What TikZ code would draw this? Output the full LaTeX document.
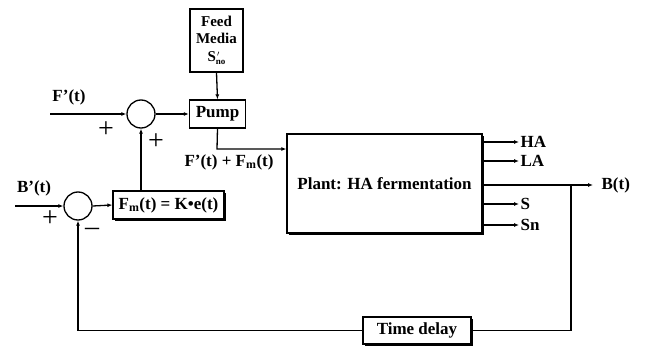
\documentclass[tikz,border=0pt]{standalone}
\usepackage{fontspec}
\setmainfont{Liberation Serif}
\usetikzlibrary{arrows.meta,shadows}
\begin{document}
\begin{tikzpicture}[x=1pt,y=-1pt,
  line width=1.3pt,
  font=\fontsize{17}{18}\selectfont\bfseries,
  arr/.style={-{Latex[length=5pt,width=4pt]}},
  blk/.style={draw,fill=white,rectangle,inner sep=0pt,align=center},
  shblk/.style={blk,drop shadow={shadow xshift=2.2pt,shadow yshift=-2.2pt,fill=black,opacity=1}},
  sumc/.style={draw,circle,minimum size=28pt,inner sep=0pt},
  lbl/.style={inner sep=1pt},
  sgn/.style={inner sep=0pt,font=\fontsize{28}{28}\selectfont\mdseries}]
\useasboundingbox (0,0) rectangle (646,348);
% blocks
\node[blk,minimum width=53pt,minimum height=63pt,font=\fontsize{15}{16}\selectfont\bfseries] (feed) at (216.5,40.5) {Feed\\[1pt]Media\\[2pt]S\textsuperscript{\fontsize{8}{8}\selectfont\,$\prime$}\kern-4pt\raisebox{-2.5pt}{\fontsize{9}{9}\selectfont no}};
\node[blk,minimum width=56pt,minimum height=28pt] (pump) at (217.5,114) {Pump};
\node[sumc] (sum1) at (141,114) {};
\node[sumc] (sum2) at (78,206) {};
\node[shblk,minimum width=111pt,minimum height=28pt] (fm) at (168.5,205) {F$_{\mathbf{m}}$(t) = K•e(t)};
\node[shblk,minimum width=195pt,minimum height=99pt] (plant) at (384.5,183.5) {Plant: HA fermentation};
\node[shblk,minimum width=108pt,minimum height=27pt] (delay) at (417,330.5) {Time delay};
% inputs
\coordinate (inF) at (50,114);
\coordinate (inB) at (15,206);
\coordinate (pturn) at (217,149);
\coordinate (branch) at (571,185);
\coordinate (bend) at (593,185);
% labels
\node[lbl] (lF) at (69,97) {F’(t)};
\node[lbl] (lB) at (34,188) {B’(t)};
\node[lbl] (lsum) at (229,162) {F’(t) + F$_{\mathbf{m}}$(t)};
\node[sgn] (p1) at (106,130) {+};
\node[sgn] (p2) at (156,142) {+};
\node[sgn] (p3) at (50,219) {+};
\node[sgn] (m1) at (92,232) {\textendash};
\node[lbl,anchor=west] (oHA) at (519,142) {HA};
\node[lbl,anchor=west] (oLA) at (519,161) {LA};
\node[lbl,anchor=west] (oS) at (519,204) {S};
\node[lbl,anchor=west] (oSn) at (519,225) {Sn};
\node[lbl,anchor=west] (oB) at (600,185) {B(t)};
% connectors
\draw[arr] (inF) -- (sum1.west);
\draw[arr] (sum1.east) -- (pump.west);
\draw[arr] (feed.south) -- (pump.north);
\draw[arr] (pump.south) -- (pturn) -- (plant.west |- pturn);
\draw[arr] (inB) -- (sum2.west);
\draw[arr] (sum2.east) -- (fm.west);
\draw[arr] (sum1 |- fm.north) -- (sum1.south);
\draw[arr] (plant.east |- oHA) -- (oHA.west);
\draw[arr] (plant.east |- oLA) -- (oLA.west);
\draw[arr] (plant.east |- oS) -- (oS.west);
\draw[arr] (plant.east |- oSn) -- (oSn.west);
\draw[arr] (plant.east |- bend) -- (bend);
\draw (branch) -- (branch |- delay) -- (delay.east);
\draw[arr] (delay.west) -- (sum2 |- delay) -- (sum2.south);
\end{tikzpicture}
\end{document}
